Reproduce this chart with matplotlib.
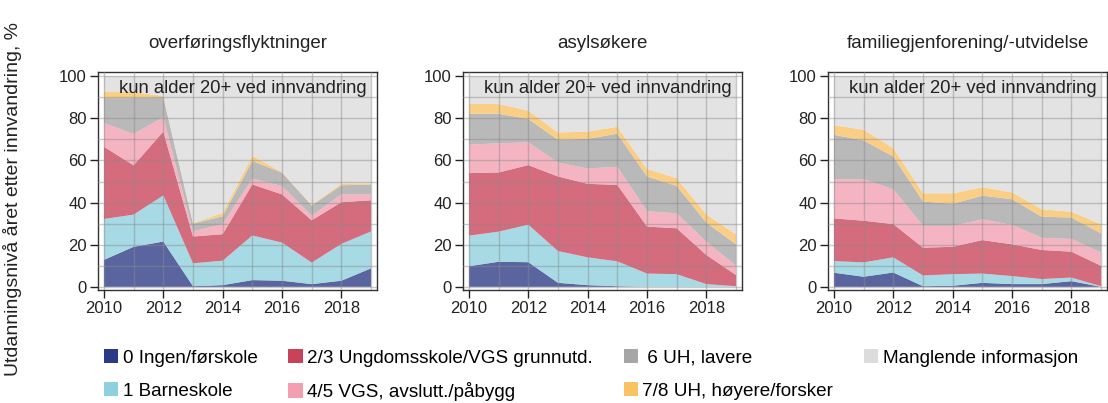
import numpy as np
import matplotlib.pyplot as plt
from matplotlib.patches import Patch

plt.rcParams['font.family'] = ['Liberation Sans', 'DejaVu Sans']

# -----------------------------
# Data (shares in %)
# -----------------------------
years = np.arange(2010, 2020)

titles = ["overføringsflyktninger", "asylsøkere", "familiegjenforening/-utvidelse"]

labels = ["0 Ingen/førskole", "1 Barneskole", "2/3 Ungdomsskole/VGS grunnutd.",
          "4/5 VGS, avslutt./påbygg", " 6 UH, lavere", "7/8 UH, høyere/forsker",
          "Manglende informasjon"]

colors = ["#2b3a85", "#8fd0de", "#c8435a", "#f29fb1", "#a6a6a6", "#f9c263", "#dcdcdc"]

# overføringsflyktninger
ovf_ingen = [12.8, 19.0, 21.5, 0.3, 0.8, 3.2, 2.9, 1.3, 2.9, 8.8]
ovf_barne = [19.4, 15.3, 21.9, 10.9, 11.6, 21.2, 18.1, 10.2, 17.5, 17.5]
ovf_ungdom = [34.3, 23.4, 30.3, 12.7, 12.6, 24.2, 22.9, 20.1, 19.8, 14.8]
ovf_vgs = [11.2, 14.9, 6.8, 2.4, 4.8, 2.8, 3.9, 2.2, 3.7, 2.8]
ovf_uh_lav = [11.9, 17.0, 9.6, 3.7, 3.7, 8.4, 6.4, 4.8, 4.3, 4.7]
ovf_uh_hoy = [2.9, 2.9, 0.5, 0.3, 1.6, 2.4, 0.3, 0.4, 0.8, 0.5]

# asylsøkere
asyl_ingen = [9.8, 11.9, 11.7, 1.9, 0.8, 0.3, 0.0, 0.0, 0.0, 0.0]
asyl_barne = [14.5, 14.3, 17.8, 15.1, 13.2, 11.8, 6.3, 6.0, 1.3, 0.3]
asyl_ungdom = [29.7, 28.1, 28.3, 35.4, 34.9, 36.3, 22.3, 21.8, 13.8, 5.3]
asyl_vgs = [13.6, 13.8, 10.8, 6.6, 7.3, 8.6, 7.3, 7.1, 6.3, 4.4]
asyl_uh_lav = [14.6, 14.1, 11.1, 10.8, 14.1, 15.7, 16.5, 13.0, 9.1, 10.2]
asyl_uh_hoy = [4.6, 4.6, 4.0, 3.5, 3.4, 3.3, 3.6, 3.7, 3.9, 4.7]

# familiegjenforening/-utvidelse
fam_ingen = [6.7, 4.8, 6.8, 0.3, 0.5, 1.9, 1.3, 1.3, 2.7, 0.0]
fam_barne = [5.5, 6.8, 7.2, 5.1, 5.5, 4.4, 3.8, 2.4, 1.7, 0.3]
fam_ungdom = [20.3, 19.8, 15.8, 13.2, 13.0, 15.9, 15.1, 13.8, 12.3, 9.7]
fam_vgs = [18.6, 19.7, 16.5, 10.4, 10.0, 9.8, 9.2, 5.8, 6.0, 6.3]
fam_uh_lav = [21.1, 18.4, 15.6, 11.5, 10.4, 11.3, 12.2, 10.0, 10.2, 9.1]
fam_uh_hoy = [4.5, 5.1, 4.0, 3.9, 5.0, 4.0, 3.3, 3.5, 2.8, 4.3]

panels = [
    [ovf_ingen, ovf_barne, ovf_ungdom, ovf_vgs, ovf_uh_lav, ovf_uh_hoy],
    [asyl_ingen, asyl_barne, asyl_ungdom, asyl_vgs, asyl_uh_lav, asyl_uh_hoy],
    [fam_ingen, fam_barne, fam_ungdom, fam_vgs, fam_uh_lav, fam_uh_hoy],
]

# -----------------------------
# Plot
# -----------------------------
W, H = 1108, 403
fig = plt.figure(figsize=(W / 100, H / 100), dpi=100)

lefts = [98, 463, 828]
ax_w, ax_top, ax_bot = 279, 72, 290

for i, layers in enumerate(panels):
    ax = fig.add_axes([lefts[i] / W, 1 - ax_bot / H, ax_w / W, (ax_bot - ax_top) / H])
    known = np.array(layers)
    missing = 100 - known.sum(axis=0)
    ax.stackplot(years, *known, missing, colors=colors, alpha=0.78, linewidth=0)

    ax.set_xlim(2009.8, 2019.2)
    ax.set_ylim(-1.5, 102)
    ax.set_xticks(range(2010, 2019, 2))
    ax.set_yticks(range(0, 101, 20))
    ax.set_yticks(range(0, 101, 10), minor=True)
    ax.set_xticks(years, minor=True)
    ax.tick_params(axis='y', which='minor', length=0)
    ax.tick_params(axis='x', which='minor', length=0)
    ax.tick_params(which='major', length=6, width=1, labelsize=12, pad=2, colors='#222222')
    ax.grid(True, which='both', color='#8a8a8a', alpha=0.45, linewidth=1)
    ax.set_axisbelow(False)
    for s in ax.spines.values():
        s.set_color('#333333')
        s.set_linewidth(1)

    ax.set_title(titles[i], fontsize=13.5, pad=17, color='#222222')
    ax.text(0.52, 0.965, "kun alder 20+ ved innvandring", transform=ax.transAxes,
            ha='center', va='top', fontsize=13.3, color='#222222')

fig.text(13 / W, 1 - 199 / H, "Utdanningsnivå året etter innvandring, %", rotation=90,
         ha='center', va='center', fontsize=14, color='#222222')

handles = [Patch(facecolor=c, edgecolor='none') for c in colors]
fig.legend(handles, labels, ncol=4, loc='upper left', bbox_to_anchor=(104 / W, 1 - 349 / H),
           frameon=False, fontsize=13.6, handlelength=0.75, handleheight=0.8,
           handletextpad=0.25, columnspacing=1.62, labelspacing=0.8, borderaxespad=0,
           borderpad=0)

fig.savefig("out.png", dpi=100)
